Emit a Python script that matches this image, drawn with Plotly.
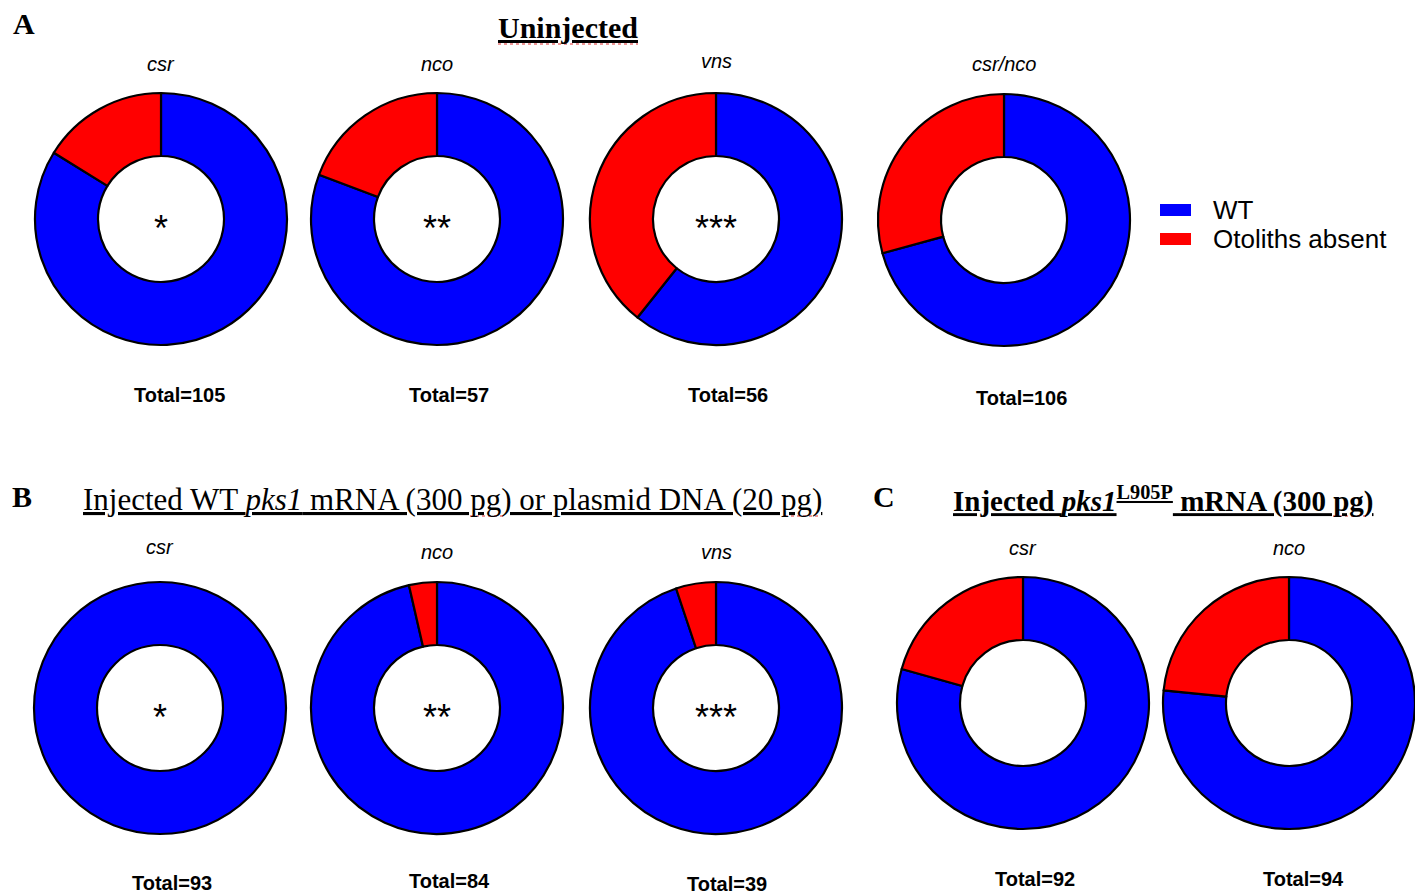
import plotly.graph_objects as go

# ---------------------------------------------------------------- data
labels = ["WT", "Otoliths absent"]
colors = ["#0000FF", "#FF0000"]

# A: uninjected embryos
a_genotypes = ["csr", "nco", "vns", "csr/nco"]
a_wt = [88, 46, 34, 75]
a_absent = [17, 11, 22, 31]
a_marks = ["*", "**", "***", ""]

# B: injected with WT pks1 mRNA or plasmid DNA
b_genotypes = ["csr", "nco", "vns"]
b_wt = [93, 81, 37]
b_absent = [0, 3, 2]
b_marks = ["*", "**", "***"]

# C: injected with pks1 L905P mRNA
c_genotypes = ["csr", "nco"]
c_wt = [73, 72]
c_absent = [19, 22]
c_marks = ["", ""]

# ---------------------------------------------------------------- layout
W, H = 1415, 894
R = 126            # outer radius in px
SANS = "Liberation Sans"
SERIF = "Liberation Serif"

def px(x):
    return x / W

def py(y):
    return 1 - y / H

panels = [
    # genotypes, wt, absent, marks, centres, label y, total y, total dx
    (a_genotypes, a_wt, a_absent, a_marks,
     [(161, 219), (437, 219), (716, 219), (1004, 220)],
     [64, 64, 61, 64], [395, 395, 395, 398], [18, 12, 12, 17]),
    (b_genotypes, b_wt, b_absent, b_marks,
     [(160, 708), (437, 708), (716, 708)],
     [547, 552, 552], [883, 881, 884], [12, 12, 11]),
    (c_genotypes, c_wt, c_absent, c_marks,
     [(1023, 703), (W - R, 703)],
     [548, 548], [879, 879], [12, 14]),
]

fig = go.Figure()
annotations = []

for genos, wt, absent, marks, centres, lab_y, tot_y, tot_dx in panels:
    for i, g in enumerate(genos):
        cx, cy = centres[i]
        vals = [wt[i], absent[i]]
        fig.add_trace(go.Pie(
            labels=labels,
            values=vals,
            marker=dict(colors=colors,
                        line=dict(color="black",
                                  width=[2.2 if v > 0 else 0 for v in vals])),
            hole=0.5,
            sort=False,
            direction="clockwise",
            rotation=0,
            textinfo="none",
            hoverinfo="label+value",
            showlegend=False,
            domain=dict(x=[px(cx - R), min(1, px(cx + R))],
                        y=[py(cy + R), py(cy - R)]),
        ))
        annotations.append(dict(
            x=px(cx), y=py(lab_y[i]), text=f"<i>{g}</i>",
            font=dict(family=SANS, size=20, color="black"),
        ))
        annotations.append(dict(
            x=px(cx + tot_dx[i]), y=py(tot_y[i]),
            text=f"<b>Total={wt[i] + absent[i]}</b>",
            font=dict(family=SANS, size=20, color="black"),
        ))
        if marks[i]:
            annotations.append(dict(
                x=px(cx), y=py(cy + 9), text=marks[i],
                font=dict(family=SANS, size=36, color="black"),
            ))

# panel letters and headings
headings = [
    ("<b>A</b>", 24, 24, 30),
    ("<b>B</b>", 22, 497, 30),
    ("<b>C</b>", 884, 496, 30),
    ("<b><u>Uninjected</u></b>", 568, 27, 30),
    ("<u>Injected WT <i>pks1</i> mRNA (300 pg) or plasmid DNA (20 pg)</u>",
     453, 499, 31),
    ("<b><u>Injected <i>pks1</i><sup>L905P</sup> mRNA (300 pg)</u></b>",
     1163, 499, 29),
]
for text, x, y, size in headings:
    annotations.append(dict(
        x=px(x), y=py(y), text=text,
        font=dict(family=SERIF, size=size, color="black"),
    ))

shapes = []

# spell-check style dotted marks under headings
for x0, x1, y in [(498, 638, 44), (470, 505, 516), (785, 820, 516),
                  (1333, 1366, 516)]:
    shapes.append(dict(type="line", xref="paper", yref="paper",
                       x0=px(x0), x1=px(x1), y0=py(y), y1=py(y),
                       line=dict(color="#E03030", width=1.2, dash="dot")))

# legend
legend_rows = [(labels[0], colors[0], 210), (labels[1], colors[1], 239)]
for name, col, y in legend_rows:
    shapes.append(dict(type="rect", xref="paper", yref="paper",
                       x0=px(1160), x1=px(1191), y0=py(y + 6), y1=py(y - 6),
                       fillcolor=col, line=dict(width=0)))
    annotations.append(dict(
        x=px(1211), y=py(y), text=name, xanchor="left",
        font=dict(family=SANS, size=26, color="black"),
    ))

for a in annotations:
    a.setdefault("xref", "paper")
    a.setdefault("yref", "paper")
    a.setdefault("showarrow", False)
    a.setdefault("xanchor", "center")
    a.setdefault("yanchor", "middle")

fig.update_layout(
    width=W, height=H, autosize=False,
    margin=dict(l=0, r=0, t=0, b=0),
    paper_bgcolor="white", plot_bgcolor="white",
    annotations=annotations, shapes=shapes,
    showlegend=False,
)

fig.write_html("out.html")
